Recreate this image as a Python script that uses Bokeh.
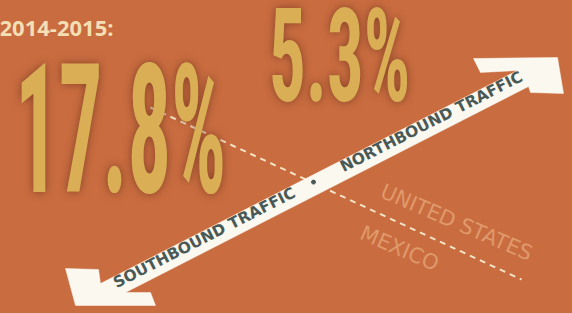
import math
from bokeh.plotting import figure
from bokeh.models import Range1d, GlobalInlineStyleSheet, Div
from bokeh.layouts import column
from bokeh.core.properties import value
from bokeh.embed import file_html
from bokeh.resources import INLINE

# ---- data -------------------------------------------------------------
period = "2014-2015:"
growth = [17.8, 5.3]                      # % change, southbound / northbound
growth_labels = [f"{g}%" for g in growth]
directions = ["SOUTHBOUND TRAFFIC", "NORTHBOUND TRAFFIC"]
countries = ["UNITED STATES", "MEXICO"]

# ---- style ------------------------------------------------------------
W, H = 572, 313
BG = "#C96C40"
GOLD = "#D9AE55"
CREAM = "#FBF8F0"
INK = "#4A5955"
DASH = "#F4E4C6"
LIGHT = "#E0996A"
YEAR = "#F4DFB5"

p = figure(width=W, height=H, output_backend="svg", toolbar_location=None,
           x_range=Range1d(0, W), y_range=Range1d(H, 0), min_border=0)
p.axis.visible = False
p.grid.visible = False
p.outline_line_color = None
p.background_fill_color = BG
p.border_fill_color = BG
p.stylesheets = [GlobalInlineStyleSheet(
    css="html,body{margin:0;padding:0;background:#C96C40;overflow:hidden}")]

# period heading
p.text(x=[-1], y=[26.5], text=[period], text_font=value("Open Sans"),
       text_font_style="bold", text_font_size="22px", text_color=YEAR,
       text_baseline="alphabetic", text_align="left")

# border line (dashed)
p.line(x=[150, 521], y=[107, 279], line_color=DASH, line_width=2, line_dash="6 5")

# country labels either side of the border
ang_b = -math.atan(0.43)
p.text(x=[456, 399], y=[222, 248], text=countries, angle=ang_b,
       text_align="center", text_baseline="middle", text_font=value("DejaVu Sans"),
       text_font_size="21px", text_color=LIGHT)

# double-headed arrow
arrow_x = [65, 98, 100, 517, 480, 473, 557, 563, 530, 528, 125, 150, 155, 75]
arrow_y = [268, 269, 283, 70, 72, 58, 57, 93, 92, 86, 292, 292, 305, 305]
p.patch(arrow_x, arrow_y, fill_color=CREAM, line_color=CREAM, line_width=0.5)

ang = math.atan(0.511)
p.text(x=[204, 431], y=[237.3, 121.3], text=directions, angle=ang,
       text_align="center", text_baseline="middle", text_font=value("DejaVu Sans"),
       text_font_style="bold", text_font_size="15.5px", text_color=INK)
p.scatter(x=[313], y=[181.6], size=4, color=INK)

# big condensed percentages (HTML text squeezed horizontally)
big = [  # label, left px, top px, font px, horizontal squeeze
    (growth_labels[0], 10, 58, 180, 0.48),
    (growth_labels[1], 264, 2.5, 130, 0.56),
]
html = "".join(
    f'<div style="position:absolute;left:{x}px;top:{t}px;'
    f"font-family:'Roboto Condensed';font-weight:bold;font-size:{fs}px;"
    f"line-height:0.75;color:{GOLD};white-space:nowrap;"
    f"transform:scale({sq},1);transform-origin:0 0;"
    f'text-shadow:0 0 12px rgba(105,50,25,0.7)">{lab}</div>'
    for lab, x, t, fs, sq in big)
overlay = Div(text=html, width=W, height=H,
              styles={"position": "absolute", "left": "0px", "top": "0px",
                      "pointer-events": "none"})

root = column(p, overlay)
open("out.html", "w").write(file_html(root, INLINE))
